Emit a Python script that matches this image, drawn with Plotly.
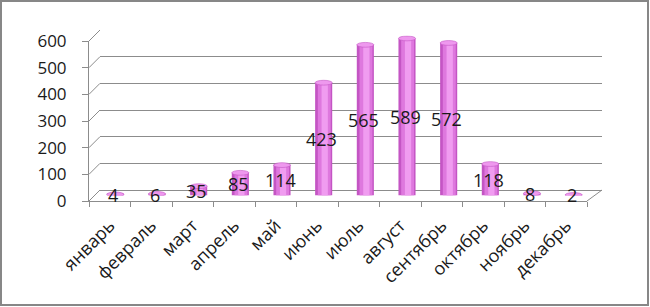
import plotly.graph_objects as go

months = ["январь", "февраль", "март", "апрель", "май", "июнь",
          "июль", "август", "сентябрь", "октябрь", "ноябрь", "декабрь"]
values = [4, 6, 35, 85, 114, 423, 565, 589, 572, 118, 8, 2]
y_ticks = [0, 100, 200, 300, 400, 500, 600]

W, H = 650, 307
FONT = "Open Sans"
GRID = "#8c8c8c"


def fx(px):
    return px / W


def fy(py):
    return 1 - py / H


fig = go.Figure()

# subplot 1: back wall (gridlines)
fig.add_trace(go.Scatter(x=months, y=values, mode="none", xaxis="x", yaxis="y",
                         hoverinfo="skip", showlegend=False))

# subplot 2: cylinders (layered bars to imitate shading)
fig.add_trace(go.Bar(x=months, y=values, width=0.41, marker_color="#C455C4",
                     marker_line_width=0, xaxis="x2", yaxis="y2", showlegend=False,
                     hoverinfo="skip"))
fig.add_trace(go.Bar(x=months, y=values, width=0.31, offset=-0.14, marker_color="#DE78DE",
                     marker_line_width=0, xaxis="x2", yaxis="y2", showlegend=False,
                     hoverinfo="skip"))
fig.add_trace(go.Bar(x=months, y=values, width=0.15, offset=-0.05, marker_color="#F09CF0",
                     marker_line_width=0, xaxis="x2", yaxis="y2", showlegend=False,
                     hoverinfo="skip"))

# cylinder tops
for i, v in enumerate(values):
    fig.add_shape(type="circle", xref="x2", yref="y2",
                  x0=i - 0.205, x1=i + 0.205, y0=v - 9, y1=v + 9,
                  fillcolor="#EE98EE", line=dict(color="#C455C4", width=0.6))

# data labels (annotations sit above the cylinder tops)
for m, v in zip(months, values):
    fig.add_annotation(x=m, y=v / 2, xref="x2", yref="y2", text=str(v),
                       showarrow=False, xanchor="center", yanchor="middle", xshift=-2,
                       font=dict(family=FONT, size=18, color="#1a1a1a"))

# subplot 3: front axes
fig.add_trace(go.Scatter(x=months, y=values, mode="none", xaxis="x3", yaxis="y3",
                         hoverinfo="skip", showlegend=False))

# diagonal wall/floor edges
for v in y_ticks:
    d = v * 160 / 600
    fig.add_shape(type="line", xref="paper", yref="paper",
                  x0=fx(89), y0=fy(201 - d), x1=fx(100), y1=fy(190 - d),
                  line=dict(color=GRID, width=1))
fig.add_shape(type="line", xref="paper", yref="paper",
              x0=fx(587), y0=fy(201), x1=fx(602), y1=fy(190),
              line=dict(color=GRID, width=1))

# outer border
fig.add_shape(type="rect", xref="paper", yref="paper",
              x0=fx(1), x1=fx(648), y0=fy(305), y1=fy(1),
              line=dict(color="#878787", width=2), fillcolor="rgba(0,0,0,0)")

hidden_x = dict(type="category", range=[-0.5, 11.5], showgrid=False, zeroline=False,
                showticklabels=False, ticks="", showline=False, automargin=False)

fig.update_layout(
    template="none",
    width=W, height=H, autosize=False,
    margin=dict(l=0, r=0, t=0, b=0, pad=0),
    paper_bgcolor="white", plot_bgcolor="rgba(0,0,0,0)",
    barmode="overlay", showlegend=False,
    font=dict(family=FONT, size=16, color="#1a1a1a"),
    xaxis=dict(domain=[fx(100), fx(602)], anchor="y", **hidden_x),
    yaxis=dict(domain=[fy(190), fy(30)], anchor="x", range=[0, 600],
               tickvals=y_ticks, showgrid=True, gridcolor=GRID, gridwidth=1,
               zeroline=True, zerolinecolor=GRID, zerolinewidth=1,
               showticklabels=False, ticks="", automargin=False),
    xaxis2=dict(domain=[fx(94.5), fx(594.5)], anchor="y2", **hidden_x),
    yaxis2=dict(domain=[fy(195.5), fy(35.5)], anchor="x2", range=[0, 600],
                showgrid=False, zeroline=False, showticklabels=False, ticks="",
                automargin=False),
    xaxis3=dict(domain=[fx(89), fx(587)], anchor="y3", type="category",
                range=[-0.5, 11.5], tickson="boundaries", ticks="outside", ticklen=5,
                tickcolor=GRID, showline=True, linecolor=GRID, linewidth=1,
                showgrid=False, zeroline=False, tickangle=-45, automargin=False,
                ticklabelstandoff=6,
                tickfont=dict(family=FONT, size=18, color="#1a1a1a")),
    yaxis3=dict(domain=[fy(201), fy(41)], anchor="x3", range=[0, 600],
                tickvals=y_ticks, ticks="outside", ticklen=6, tickcolor=GRID,
                showline=True, linecolor=GRID, linewidth=1, showgrid=False,
                zeroline=False, ticklabelstandoff=12, automargin=False,
                tickfont=dict(family=FONT, size=17, color="#1a1a1a")),
)

fig.write_html("out.html", config={"displayModeBar": False},
               post_script="document.body.style.margin='0';")
